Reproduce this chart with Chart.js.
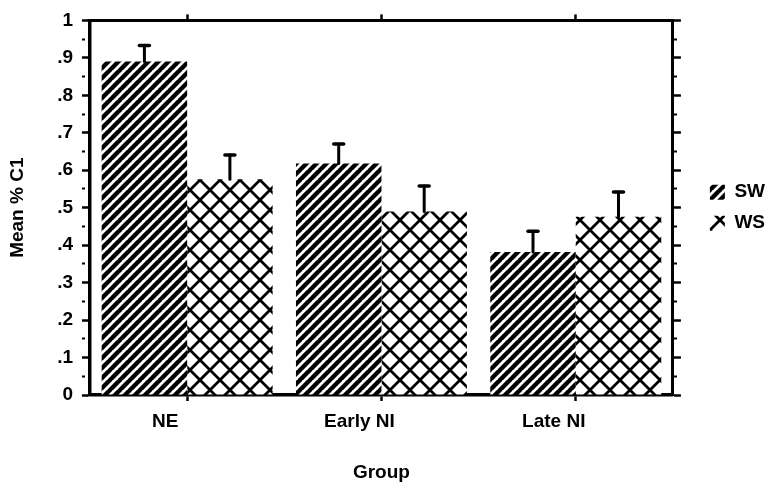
<!DOCTYPE html>
<html>
<head>
<meta charset="utf-8">
<script src="https://cdn.jsdelivr.net/npm/chart.js@4.4.1/dist/chart.umd.min.js"></script>
<style>
    html, body { margin: 0; padding: 0; background: #fff; }
    #wrap { width: 775px; height: 491px; }
</style>
</head>
<body>
<div id="wrap"><canvas id="chart"></canvas></div>
<script>
const groups = ['NE', 'Early NI', 'Late NI'];
const swMeans = [0.89, 0.618, 0.382];
const swErrors = [0.043, 0.052, 0.055];
const wsMeans = [0.576, 0.49, 0.476];
const wsErrors = [0.065, 0.068, 0.066];
const yTicks = [0, 0.1, 0.2, 0.3, 0.4, 0.5, 0.6, 0.7, 0.8, 0.9, 1];

const FONT = '"Liberation Sans", Arial, sans-serif';

const makePattern = (size, draw) => {
    const c = document.createElement('canvas');
    c.width = size;
    c.height = size;
    const ctx = c.getContext('2d');
    ctx.fillStyle = '#fff';
    ctx.fillRect(0, 0, size, size);
    ctx.strokeStyle = '#000';
    draw(ctx, size);
    return ctx.createPattern(c, 'repeat');
};

// SW: heavy forward diagonals
const swPattern = makePattern(10, (ctx, s) => {
    ctx.lineWidth = 4.4;
    ctx.beginPath();
    for (let k = -1; k <= 1; k++) {
        ctx.moveTo(k * s - 1, s + 1);
        ctx.lineTo(k * s + s + 1, -1);
    }
    ctx.stroke();
});

// WS: open cross-hatch
const wsPattern = makePattern(20, (ctx, s) => {
    ctx.lineWidth = 2.8;
    ctx.beginPath();
    for (let k = -1; k <= 1; k++) {
        ctx.moveTo(k * s - 1, s + 1);
        ctx.lineTo(k * s + s + 1, -1);
        ctx.moveTo(k * s - 1, -1);
        ctx.lineTo(k * s + s + 1, s + 1);
    }
    ctx.stroke();
});

const isMajor = (v) => Math.round(v * 100) % 10 === 0;

const yLabel = (v) => {
    const r = Math.round(v * 100);
    if (r % 10 !== 0) {
        return '';
    }
    if (r === 0) return '0';
    if (r === 100) return '1';
    return '.' + (r / 10);
};

const errorBars = {
    id: 'errorBars',
    afterDatasetsDraw(chart) {
        const { ctx } = chart;
        const y = chart.scales.y;
        ctx.save();
        ctx.strokeStyle = '#000';
        ctx.lineCap = 'round';
        chart.data.datasets.forEach((ds, di) => {
            const meta = chart.getDatasetMeta(di);
            meta.data.forEach((bar, i) => {
                const top = y.getPixelForValue(ds.data[i]);
                const cap = y.getPixelForValue(ds.data[i] + ds.errors[i]);
                ctx.lineWidth = 3;
                ctx.beginPath();
                ctx.moveTo(bar.x, top);
                ctx.lineTo(bar.x, cap);
                ctx.stroke();
                ctx.lineWidth = 3.5;
                ctx.beginPath();
                ctx.moveTo(bar.x - 5, cap);
                ctx.lineTo(bar.x + 5, cap);
                ctx.stroke();
            });
        });
        ctx.restore();
    },
};

const axisFont = { family: FONT, size: 19, weight: 'bold' };

new Chart(document.getElementById('chart'), {
    type: 'bar',
    data: {
        labels: groups,
        datasets: [
            { label: 'SW', data: swMeans, errors: swErrors, backgroundColor: swPattern, borderWidth: 0 },
            { label: 'WS', data: wsMeans, errors: wsErrors, backgroundColor: wsPattern, borderWidth: 0 },
        ],
    },
    options: {
        responsive: true,
        maintainAspectRatio: false,
        animation: false,
        layout: { padding: 0 },
        datasets: {
            bar: { categoryPercentage: 0.88, barPercentage: 1 },
        },
        plugins: {
            tooltip: { enabled: false },
            legend: {
                position: 'right',
                fullSize: false,
                labels: {
                    color: '#000',
                    font: { family: FONT, size: 19, weight: 'bold' },
                    boxWidth: 15,
                    boxHeight: 15,
                    padding: 12,
                },
            },
        },
        scales: {
            x: {
                position: 'bottom',
                border: { color: '#000', width: 3.5 },
                grid: { drawOnChartArea: false, offset: false, color: '#000', tickLength: 6, tickWidth: 2.5 },
                ticks: { color: '#000', font: axisFont, padding: 9, labelOffset: -22, maxRotation: 0 },
                title: { display: true, text: 'Group', color: '#000', font: axisFont, padding: { top: 0, bottom: 7 } },
                afterFit: (scale) => { scale.height = 96; },
            },
            xTop: {
                type: 'category',
                position: 'top',
                border: { color: '#000', width: 3 },
                grid: { drawOnChartArea: false, offset: false, color: '#000', tickLength: 6, tickWidth: 2.5 },
                ticks: { display: false },
                afterFit: (scale) => { scale.height = 13; },
            },
            y: {
                position: 'left',
                min: 0,
                max: 1,
                border: { color: '#000', width: 3.5 },
                grid: {
                    drawOnChartArea: false,
                    color: '#000',
                    tickLength: 8,
                    tickWidth: (c) => (isMajor(c.tick.value) ? 2.5 : 2),
                    tickBorderDash: (c) => (isMajor(c.tick.value) ? [] : [3, 40]),
                },
                ticks: {
                    autoSkip: false,
                    color: '#000',
                    font: axisFont,
                    padding: 9,
                    callback: yLabel,
                },
                title: { display: true, text: 'Mean % C1', color: '#000', font: axisFont, padding: { top: 6, bottom: 0 } },
                afterBuildTicks: (scale) => {
                    scale.ticks = [];
                    for (let i = 0; i < yTicks.length; i++) {
                        scale.ticks.push({ value: yTicks[i] });
                        if (i < yTicks.length - 1) {
                            scale.ticks.push({ value: (yTicks[i] + yTicks[i + 1]) / 2 });
                        }
                    }
                },
                afterFit: (scale) => { scale.width = 90; },
            },
            yRight: {
                position: 'right',
                min: 0,
                max: 1,
                border: { color: '#000', width: 3 },
                grid: {
                    drawOnChartArea: false,
                    color: '#000',
                    tickLength: 8,
                    tickWidth: (c) => (isMajor(c.tick.value) ? 2.5 : 2),
                    tickBorderDash: (c) => (isMajor(c.tick.value) ? [] : [3, 40]),
                },
                ticks: { display: false, autoSkip: false },
                afterBuildTicks: (scale) => {
                    scale.ticks = [];
                    for (let i = 0; i < yTicks.length; i++) {
                        scale.ticks.push({ value: yTicks[i] });
                        if (i < yTicks.length - 1) {
                            scale.ticks.push({ value: (yTicks[i] + yTicks[i + 1]) / 2 });
                        }
                    }
                },
                afterFit: (scale) => { scale.width = 25; },
            },
        },
    },
    plugins: [errorBars],
});
</script>
</body>
</html>
